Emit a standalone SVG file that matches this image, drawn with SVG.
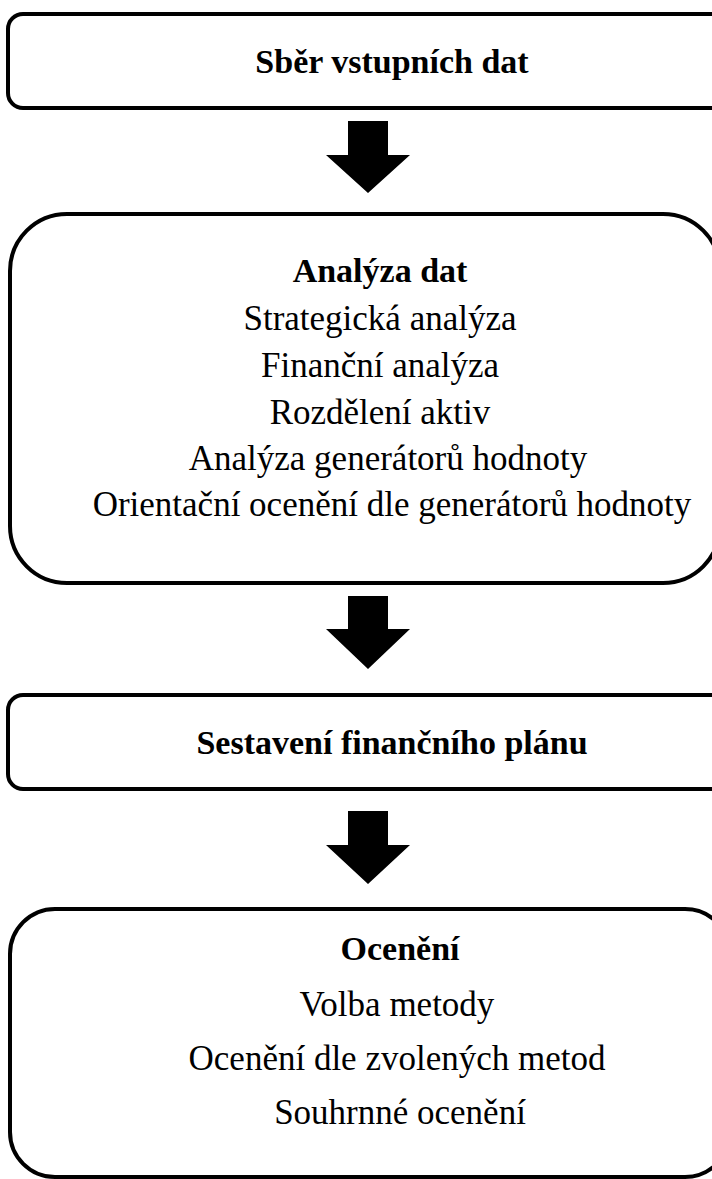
<svg xmlns="http://www.w3.org/2000/svg" width="712" height="1179" viewBox="0 0 712 1179">
<style>
.box{fill:#fff;stroke:#000;stroke-width:4}
.arr{fill:#000}
text{font-family:"Liberation Serif","Times New Roman",serif;font-size:35px;fill:#000;text-anchor:middle}
.b{font-weight:bold;font-size:34px}
</style>
<rect width="712" height="1179" fill="#fff"/>
<g id="n1">
<rect class="box" x="8" y="14" width="780" height="94" rx="15"/>
<text class="b" x="392" y="73">Sběr vstupních dat</text>
</g>
<g id="n2">
<rect class="box" x="10" y="214" width="710" height="369" rx="57"/>
<text class="b" x="380" y="282">Analýza dat</text>
<text x="380" y="330">Strategická analýza</text>
<text x="380" y="377">Finanční analýza</text>
<text x="380" y="424">Rozdělení aktiv</text>
<text x="388" y="470">Analýza generátorů hodnoty</text>
<text x="392" y="516">Orientační ocenění dle generátorů hodnoty</text>
</g>
<g id="n3">
<rect class="box" x="8" y="695" width="780" height="94" rx="15"/>
<text class="b" x="392" y="754">Sestavení finančního plánu</text>
</g>
<g id="n4">
<rect class="box" x="10" y="909" width="720" height="268" rx="45"/>
<text class="b" x="400" y="960">Ocenění</text>
<text x="397" y="1016">Volba metody</text>
<text x="397" y="1070">Ocenění dle zvolených metod</text>
<text x="400" y="1124">Souhrnné ocenění</text>
</g>
<g id="connectors">
<polygon class="arr" points="348,121 388,121 388,155 410,155 368,193 326,155 348,155"/>
<polygon class="arr" points="348,596 388,596 388,629 410,629 368,669 326,629 348,629"/>
<polygon class="arr" points="348,811 388,811 388,845 410,845 368,884 326,845 348,845"/>
</g>
</svg>
